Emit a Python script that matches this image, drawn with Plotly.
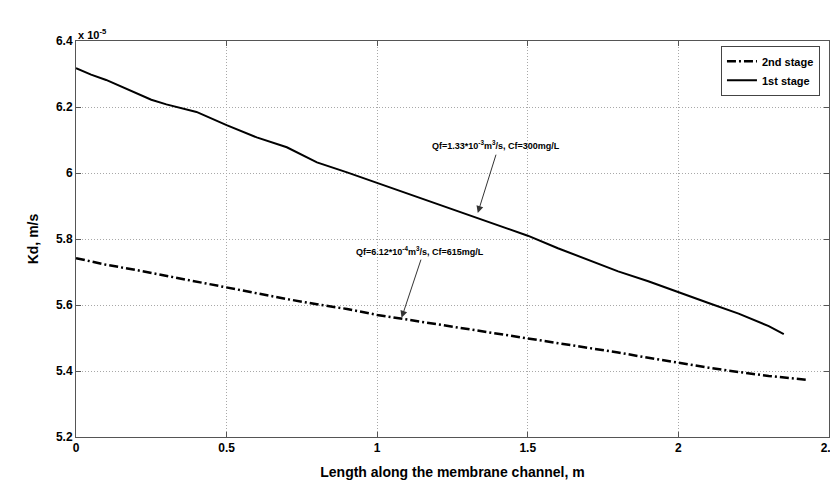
import plotly.graph_objects as go

# Data (Kd in units of 1e-5 m/s)
x_1st = [0.0, 0.05, 0.1, 0.15, 0.2, 0.25, 0.3, 0.4, 0.5, 0.6, 0.7, 0.8, 0.9, 1.0,
         1.1, 1.2, 1.3, 1.4, 1.5, 1.6, 1.7, 1.8, 1.9, 2.0, 2.1, 2.2, 2.25, 2.3, 2.35]
kd_1st = [6.318, 6.298, 6.282, 6.262, 6.240, 6.222, 6.208, 6.185, 6.145, 6.108, 6.078, 6.032,
          6.002, 5.970, 5.940, 5.908, 5.876, 5.842, 5.810, 5.772, 5.738, 5.702, 5.672, 5.638,
          5.606, 5.574, 5.556, 5.536, 5.512]

x_2nd = [0.0, 0.1, 0.2, 0.3, 0.4, 0.5, 0.6, 0.7, 0.8, 0.9, 1.0, 1.1, 1.2, 1.3, 1.4,
         1.5, 1.6, 1.7, 1.8, 1.9, 2.0, 2.1, 2.2, 2.3, 2.43]
kd_2nd = [5.742, 5.722, 5.706, 5.688, 5.672, 5.652, 5.634, 5.618, 5.602, 5.588, 5.570, 5.556,
          5.542, 5.527, 5.512, 5.498, 5.484, 5.470, 5.456, 5.440, 5.424, 5.410, 5.397, 5.385, 5.373]

x_ticks = [0, 0.5, 1, 1.5, 2, 2.5]
x_ticklabels = ["0", "0.5", "1", "1.5", "2", "2.5"]
y_ticks = [5.2, 5.4, 5.6, 5.8, 6.0, 6.2, 6.4]
y_ticklabels = ["5.2", "5.4", "5.6", "5.8", "6", "6.2", "6.4"]

font_n = "Liberation Sans Narrow, Liberation Sans, Arial"
font_b = "Liberation Sans, Arial"

fig = go.Figure()
fig.add_trace(go.Scatter(x=x_2nd, y=kd_2nd, mode="lines", name="<b>2nd stage</b>",
                         line=dict(color="black", width=2.5, dash="9px,3px,2px,3px")))
fig.add_trace(go.Scatter(x=x_1st, y=kd_1st, mode="lines", name="<b>1st stage</b>",
                         line=dict(color="black", width=2)))

axis_common = dict(showline=True, linecolor="#555555", linewidth=1, mirror="ticks",
                   ticks="inside", ticklen=5, tickcolor="#555555",
                   showgrid=True, gridcolor="#a8a8a8", griddash="1px,2px", gridwidth=1,
                   zeroline=False, tickfont=dict(family=font_n, size=12, color="black"))

fig.update_xaxes(range=[0, 2.5001], tickvals=x_ticks, ticktext=["<b>%s</b>" % t for t in x_ticklabels],
                 ticklabeloverflow="allow",
                 title=dict(text="<b>Length along the membrane channel, m</b>",
                            font=dict(family=font_n, size=14, color="black"), standoff=12),
                 **axis_common)
fig.update_yaxes(range=[5.2, 6.4], tickvals=y_ticks, ticktext=["<b>%s</b>" % t for t in y_ticklabels],
                 title=dict(text="<b>Kd, m/s</b>", font=dict(family=font_n, size=14, color="black"),
                            standoff=14),
                 **axis_common)

ann_font = dict(family=font_b, size=9, color="black")
# multiplier label
fig.add_annotation(x=0, y=1, xref="paper", yref="paper", xanchor="left", yanchor="bottom",
                   text="<b>x 10<sup>-5</sup></b>", showarrow=False,
                   font=dict(family=font_b, size=11, color="black"), yshift=-2)
# labels
fig.add_annotation(x=1.393, y=6.085, text="<b>Qf=1.33*10<sup>-3</sup>m<sup>3</sup>/s, Cf=300mg/L</b>",
                   showarrow=False, font=ann_font)
fig.add_annotation(x=1.143, y=5.764, text="<b>Qf=6.12*10<sup>-4</sup>m<sup>3</sup>/s, Cf=615mg/L</b>",
                   showarrow=False, font=ann_font)
# arrows
fig.add_annotation(x=1.334, y=5.879, ax=1.396, ay=6.06, axref="x", ayref="y", text="",
                   showarrow=True, arrowhead=2, arrowsize=1.4, arrowwidth=1, arrowcolor="#333333")
fig.add_annotation(x=1.081, y=5.561, ax=1.147, ay=5.742, axref="x", ayref="y", text="",
                   showarrow=True, arrowhead=2, arrowsize=1.4, arrowwidth=1, arrowcolor="#333333")

fig.update_layout(
    width=838, height=486,
    margin=dict(l=68, r=8, t=33, b=57),
    paper_bgcolor="white", plot_bgcolor="white",
    showlegend=True,
    legend=dict(x=0.988, y=0.988, xanchor="right", yanchor="top",
                bgcolor="white", bordercolor="#444444", borderwidth=1,
                font=dict(family=font_b, size=11, color="black"),
                itemwidth=30, tracegroupgap=0),
)

fig.write_html("out.html")
